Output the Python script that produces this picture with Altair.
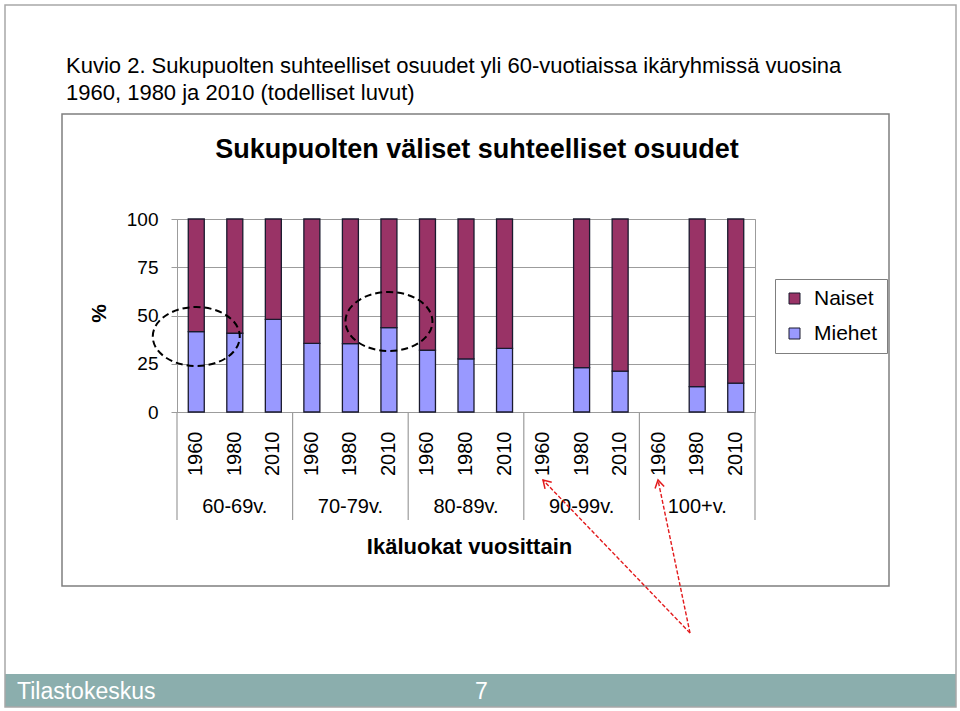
import altair as alt
import pandas as pd

# ---------------- data ----------------
groups = ["60-69v.", "70-79v.", "80-89v.", "90-99v.", "100+v."]
years = ["1960", "1980", "2010"]
series = ["Naiset", "Miehet"]
series_colors = ["#993366", "#9999FF"]
y_ticks = [0, 25, 50, 75, 100]

# Miehet / Naiset shares (%) per group, years 1960, 1980, 2010 (None = no bar)
miehet = [
    [41.6, 40.8, 48.0],
    [35.6, 35.4, 43.7],
    [32.0, 27.5, 33.0],
    [None, 23.0, 21.2],
    [None, 13.1, 15.0],
]
naiset = [
    [58.4, 59.2, 52.0],
    [64.4, 64.6, 56.3],
    [68.0, 72.5, 67.0],
    [None, 77.0, 78.8],
    [None, 86.9, 85.0],
]

# dashed-ellipse highlights (category, % level)
ellipse_keys = ["60-69v. 1960", "70-79v. 2010"]
ellipse_vals = [39.1, 46.9]

keys = [f"{g} {y}" for g in groups for y in years]

rows = []
for g, m_list, n_list in zip(groups, miehet, naiset):
    for yr, m, n in zip(years, m_list, n_list):
        if m is None:
            continue
        k = f"{g} {yr}"
        rows.append({"key": k, "series": "Miehet", "value": m, "ord": 0})
        rows.append({"key": k, "series": "Naiset", "value": n, "ord": 1})
bars_df = pd.DataFrame(rows)

group_df = pd.DataFrame({"key": [f"{g} {years[1]}" for g in groups], "label": groups})
sep_start_df = pd.DataFrame({"key": [f"{g} {years[0]}" for g in groups]})
sep_end_df = pd.DataFrame({"key": [keys[-1]]})
ell_df = pd.DataFrame({"key": ellipse_keys, "value": ellipse_vals})
one = pd.DataFrame({"d": [0]})

# ---------------- layout ----------------
W, H = 578, 193
LEFT, TOP = 177, 219
GRID = "#9c9c9c"
RED = "#e31a1c"
FONT = "Liberation Sans"


def px(x):
    return x - LEFT


def py(y):
    return y - TOP


xscale = alt.Scale(domain=keys, paddingInner=0, paddingOuter=0)
xaxis = alt.Axis(
    title="Ikäluokat vuosittain", titleFontSize=22, titleFontWeight="bold",
    titleColor="black", titleX=292, titleY=141, titleAlign="center",
    titleBaseline="alphabetic",
    labelExpr="slice(datum.label, -4)", labelAngle=270, labelAlign="right",
    labelBaseline="middle", labelFontSize=20, labelPadding=19,
    labelColor="black", labelOverlap=False, ticks=False, tickSize=0,
    domainColor=GRID, grid=False,
)
yscale = alt.Scale(domain=[0, 100], nice=False)
yaxis = alt.Axis(
    values=y_ticks, title="%", titleAngle=270, titleX=-78, titleY=94,
    titleAlign="center", titleBaseline="middle", titleFontSize=21,
    titleFontWeight="bold", titleColor="black",
    labelFontSize=19, labelPadding=13, labelColor="black",
    tickSize=6, tickColor=GRID, domainColor=GRID, gridColor=GRID, grid=True,
)


def xenc(**kw):
    return alt.X("key:N", sort=keys, scale=xscale, axis=xaxis, **kw)


def yenc(**kw):
    return alt.Y("value:Q", scale=yscale, axis=yaxis, **kw)


def rect(x1, y1, x2, y2, **mk):
    return alt.Chart(one).mark_rect(**mk).encode(
        x=alt.value(px(x1)), x2=alt.value(px(x2)),
        y=alt.value(py(y1)), y2=alt.value(py(y2)),
    )


def text(t, x, y, **mk):
    return alt.Chart(one).mark_text(text=t, font=FONT, **mk).encode(
        x=alt.value(px(x)), y=alt.value(py(y))
    )


# slide decorations
footer = rect(5, 674, 956, 707, fill="#8BAEAD")
frame = rect(5, 5, 956, 707, filled=False, stroke="#a8a8a8", strokeWidth=1.5)
chart_box = rect(62, 114, 889, 586, filled=False, stroke="#7f7f7f", strokeWidth=1.5)

title1 = text("Kuvio 2. Sukupuolten suhteelliset osuudet yli 60-vuotiaissa ikäryhmissä vuosina",
              66, 73, align="left", baseline="alphabetic", fontSize=22, color="black")
title2 = text("1960, 1980 ja 2010 (todelliset luvut)", 66, 100,
              align="left", baseline="alphabetic", fontSize=22, color="black")
chart_title = text("Sukupuolten väliset suhteelliset osuudet", 477, 158,
                   align="center", baseline="alphabetic", fontSize=27,
                   fontWeight="bold", color="black")
foot1 = text("Tilastokeskus", 17, 699, align="left", baseline="alphabetic",
             fontSize=23, color="white")
foot2 = text("7", 475, 699, align="left", baseline="alphabetic",
             fontSize=23, color="white")

# bars
bars = alt.Chart(bars_df).mark_bar(
    width=alt.RelativeBandSize(0.415), stroke="#1a1a2e", strokeWidth=1.3
).encode(
    x=xenc(),
    y=yenc(stack="zero"),
    color=alt.Color(
        "series:N",
        scale=alt.Scale(domain=series, range=series_colors),
        legend=alt.Legend(
            title=None, orient="none", legendX=598, legendY=60,
            strokeColor="#7f7f7f", fillColor="white", padding=9,
            labelFontSize=21, labelColor="black", labelFont=FONT,
            labelOffset=9, rowPadding=13, symbolType="square",
            symbolSize=121, symbolStrokeColor="#1a1a2e", symbolStrokeWidth=1,
        ),
    ),
    order=alt.Order("ord:Q"),
)

# group separators on the category axis
sep_start = alt.Chart(sep_start_df).mark_rule(color=GRID, strokeWidth=1.2).encode(
    x=xenc(bandPosition=0), y=alt.value(H), y2=alt.value(py(520))
)
sep_end = alt.Chart(sep_end_df).mark_rule(color=GRID, strokeWidth=1.2).encode(
    x=xenc(bandPosition=1), y=alt.value(H), y2=alt.value(py(520))
)

# group labels
group_labels = alt.Chart(group_df).mark_text(
    font=FONT, fontSize=20, color="black", baseline="alphabetic", align="center"
).encode(x=xenc(), y=alt.value(py(513)), text="label:N")

# dashed ellipses
ELLIPSE = "M -1 0 A 1 0.678 0 1 1 1 0 A 1 0.678 0 1 1 -1 0 Z"
ellipses = alt.Chart(ell_df).mark_point(
    shape=ELLIPSE, filled=False, stroke="black", strokeWidth=2,
    strokeDash=[7, 4], size=87 * 87, opacity=1,
).encode(x=xenc(), y=yenc())

# red dashed arrows
ARROWHEAD = "M -0.6 1 L 0 0 L 0.6 1"
arrow_tip = (690, 633)
arrow_heads = [(543, 480, 316), (658, 480, 348)]
arrows = []
for hx, hy, ang in arrow_heads:
    arrows.append(
        alt.Chart(one).mark_rule(color=RED, strokeDash=[4, 2], strokeWidth=1.4).encode(
            x=alt.value(px(arrow_tip[0])), y=alt.value(py(arrow_tip[1])),
            x2=alt.value(px(hx)), y2=alt.value(py(hy)),
        )
    )
    arrows.append(
        alt.Chart(one).mark_point(
            shape=ARROWHEAD, filled=False, stroke=RED, strokeWidth=1.5,
            size=240, angle=ang, opacity=1,
        ).encode(x=alt.value(px(hx)), y=alt.value(py(hy)))
    )

chart = alt.layer(
    footer, frame, chart_box, title1, title2, chart_title, foot1, foot2,
    bars, sep_start, sep_end, group_labels, ellipses, *arrows,
).properties(
    width=W, height=H,
    autosize=alt.AutoSizeParams(type="none"),
    padding={"left": LEFT, "top": TOP, "right": 960 - LEFT - W, "bottom": 711 - TOP - H},
).configure(
    font=FONT, background="white"
).configure_view(
    stroke=GRID, strokeWidth=1
)

chart.save("out.html", embed_options={"renderer": "svg", "actions": False})
